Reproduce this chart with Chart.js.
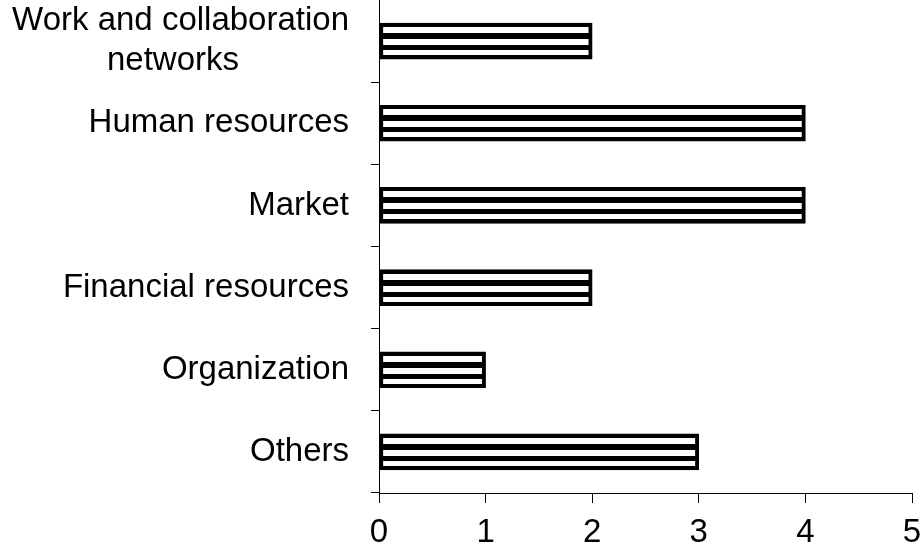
<!DOCTYPE html>
<html>
<head>
<meta charset="utf-8">
<script src="https://cdn.jsdelivr.net/npm/chart.js@4/dist/chart.umd.min.js"></script>
<style>
    html, body { margin: 0; padding: 0; background: #fff; }
</style>
</head>
<body>
<canvas id="myChart" width="921" height="546"></canvas>
<script>
// second line padded with nbsp so it sits centred under the first
const categories = [
    ["Work and collaboration", "networks" + "\u00a0".repeat(12)],
    "Human resources",
    "Market",
    "Financial resources",
    "Organization",
    "Others"
];
const counts = [2, 4, 4, 2, 1, 3];
const xTicks = [0, 1, 2, 3, 4, 5];

const barThickness = 36;

// horizontal stripes, laid out relative to the top edge of each bar
function stripePattern(ctx, top) {
    const c = document.createElement("canvas");
    c.width = 4;
    c.height = barThickness;
    const g = c.getContext("2d");
    g.fillStyle = "#fff";
    g.fillRect(0, 0, 4, barThickness);
    g.fillStyle = "#000";
    g.fillRect(0, 0, 4, 4);
    g.fillRect(0, 10, 4, 6);
    g.fillRect(0, 22, 4, 5);
    g.fillRect(0, 32, 4, 4);
    const p = ctx.createPattern(c, "repeat");
    p.setTransform(new DOMMatrix().translate(0, top));
    return p;
}

const font = { family: "'Liberation Sans', Arial, sans-serif", size: 33 };

let myChart = new Chart(document.getElementById("myChart"), {
    type: "bar",
    data: {
        labels: categories,
        datasets: [{
            data: counts,
            borderColor: "#000",
            borderWidth: 4,
            borderSkipped: false,
            barThickness: barThickness,
            backgroundColor: (context) => {
                const yScale = context.chart.scales.y;
                if (!yScale || context.dataIndex === undefined) return "#fff";
                const top = Math.round(yScale.getPixelForValue(context.dataIndex) - barThickness / 2);
                return stripePattern(context.chart.ctx, top);
            }
        }]
    },
    options: {
        indexAxis: "y",
        responsive: false,
        animation: false,
        layout: { padding: { top: 0, right: 9, bottom: 0, left: 0 } },
        plugins: { legend: { display: false }, tooltip: { enabled: false } },
        scales: {
            x: {
                min: 0,
                max: 5,
                afterBuildTicks: (scale) => { scale.ticks = xTicks.map(v => ({ value: v })); },
                afterFit: (scale) => {
                    scale.height = 53;
                    scale.paddingLeft = 0;
                    scale.paddingRight = 0;
                },
                grid: { drawOnChartArea: false, tickLength: 10, color: "#000" },
                border: { color: "#000", width: 1 },
                ticks: { color: "#000", font: font, padding: 10, maxRotation: 0, autoSkip: false }
            },
            y: {
                afterFit: (scale) => {
                    scale.width = 379;
                    scale.paddingTop = 0;
                    scale.paddingBottom = 0;
                },
                grid: { drawOnChartArea: false, tickLength: 8, color: "#000", offset: true },
                border: { color: "#000", width: 1 },
                ticks: { color: "#000", font: font, padding: 22, autoSkip: false }
            }
        }
    }
});
</script>
</body>
</html>
